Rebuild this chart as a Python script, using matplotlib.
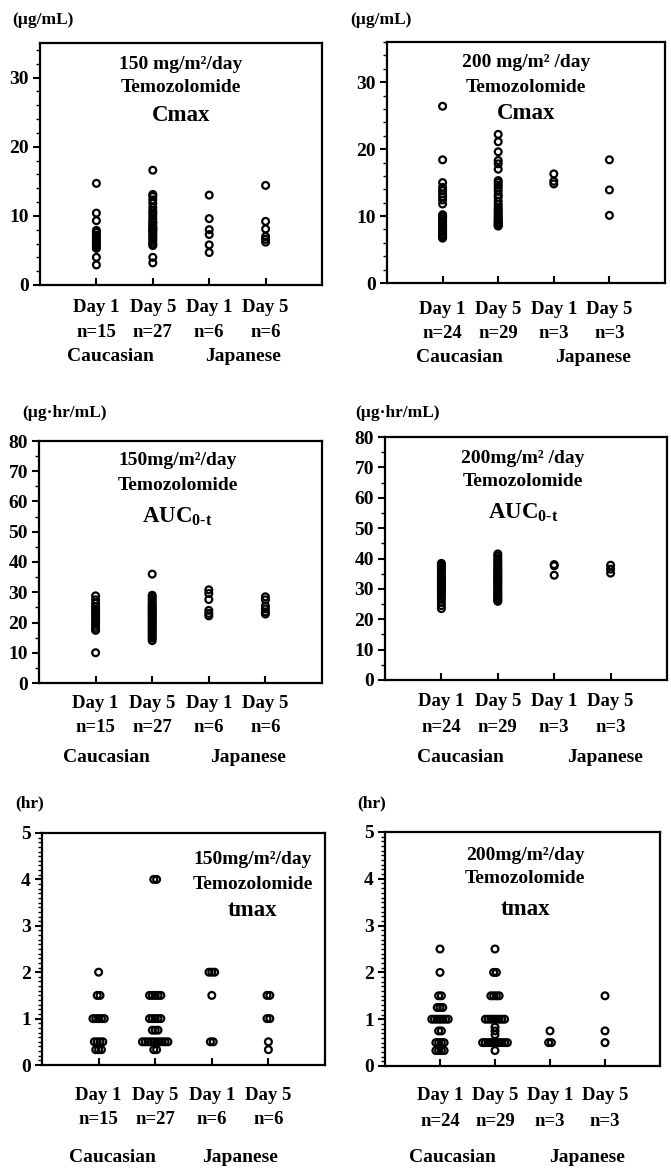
import numpy as np
import matplotlib.pyplot as plt
from matplotlib.ticker import MultipleLocator

plt.rcParams["font.family"] = ["Liberation Serif", "DejaVu Serif"]
plt.rcParams["font.weight"] = "bold"
plt.rcParams["mathtext.fontset"] = "custom"
plt.rcParams["mathtext.rm"] = "Liberation Serif:bold"

W, H = 671, 1168

day_labels = ["Day 1", "Day 5", "Day 1", "Day 5"]
race_labels = ["Caucasian", "Japanese"]
n150 = [15, 27, 6, 6]
n200 = [24, 29, 3, 3]

# Cmax (ug/mL)
cmax150_cau_d1 = [14.7, 10.4, 9.3, 7.9, 7.6, 7.2, 6.9, 6.6, 6.3, 6.0, 5.7, 5.5, 5.3, 4.0, 2.9]
cmax150_cau_d5 = [16.6, 13.1, 12.8, 12.3, 11.8, 11.2, 10.7, 10.4, 10.0, 9.6, 9.2, 9.0, 8.7, 8.4,
                  8.2, 8.0, 7.9, 7.6, 7.4, 7.1, 6.8, 6.5, 6.2, 5.9, 5.7, 4.0, 3.2]
cmax150_jpn_d1 = [13.0, 9.6, 8.0, 7.3, 5.8, 4.7]
cmax150_jpn_d5 = [14.4, 9.2, 8.1, 7.0, 6.6, 6.2]

cmax200_cau_d1 = [26.4, 18.4, 15.0, 14.3, 13.8, 13.3, 12.9, 12.4, 11.8, 10.2, 10.0, 9.9,
                  9.6, 9.3, 9.0, 8.7, 8.4, 8.1, 7.8, 7.6, 7.3, 7.1, 6.9, 6.7]
cmax200_cau_d5 = [22.2, 21.1, 19.6, 18.3, 17.8, 17.0, 15.3, 15.0, 14.6, 14.2, 13.7, 13.2,
                  12.8, 12.2, 11.7, 11.3, 11.0, 10.7, 10.4, 10.1, 9.8, 9.6, 9.4, 9.2, 9.0,
                  8.9, 8.7, 8.6, 8.5]
cmax200_jpn_d1 = [16.3, 15.2, 14.8]
cmax200_jpn_d5 = [18.4, 13.9, 10.1]

# AUC0-t (ug.hr/mL)
auc150_cau_d1 = [28.8, 27.5, 26.3, 25.2, 24.4, 23.6, 22.8, 22.0, 21.2, 20.4, 19.6, 18.8,
                 18.0, 17.4, 10.0]
auc150_cau_d5 = [36.0, 29.0, 28.3, 27.6, 26.9, 26.2, 25.5, 25.0, 24.5, 24.0, 23.5, 23.0,
                 22.5, 22.0, 21.4, 20.8, 20.2, 19.6, 19.0, 18.4, 17.8, 17.2, 16.6, 16.0,
                 15.4, 14.8, 14.0]
auc150_jpn_d1 = [30.8, 29.6, 27.6, 24.0, 23.0, 22.2]
auc150_jpn_d5 = [28.5, 27.5, 25.5, 24.5, 23.5, 22.8]

auc200_cau_d1 = [38.4, 38.0, 37.6, 37.2, 36.8, 36.3, 35.5, 34.5, 33.8, 33.2, 32.6, 32.0,
                 31.5, 31.0, 30.5, 30.0, 29.4, 28.8, 28.2, 27.5, 26.6, 25.5, 24.5, 23.5]
auc200_cau_d5 = [41.5, 40.8, 40.0, 39.3, 38.6, 38.0, 37.4, 36.8, 36.2, 35.7, 35.2, 34.7,
                 34.2, 33.7, 33.2, 32.7, 32.2, 31.7, 31.2, 30.6, 30.0, 29.4, 28.8, 28.3,
                 27.8, 27.3, 26.8, 26.3, 25.9]
auc200_jpn_d1 = [38.0, 37.6, 34.5]
auc200_jpn_d5 = [37.8, 36.5, 35.2]

# tmax (hr)
tmax150_cau_d1 = [2.0, 1.5, 1.5, 1.0, 1.0, 1.0, 1.0, 1.0, 0.5, 0.5, 0.5, 0.5, 0.33, 0.33, 0.33]
tmax150_cau_d5 = [4.0, 4.0, 1.5, 1.5, 1.5, 1.5, 1.5, 1.0, 1.0, 1.0, 1.0, 1.0, 0.75, 0.75,
                  0.75, 0.5, 0.5, 0.5, 0.5, 0.5, 0.5, 0.5, 0.5, 0.5, 0.5, 0.33, 0.33]
tmax150_jpn_d1 = [2.0, 2.0, 2.0, 1.5, 0.5, 0.5]
tmax150_jpn_d5 = [1.5, 1.5, 1.0, 1.0, 0.5, 0.33]

tmax200_cau_d1 = [2.5, 2.0, 1.5, 1.5, 1.25, 1.25, 1.25, 1.0, 1.0, 1.0, 1.0, 1.0, 1.0, 1.0,
                  0.75, 0.75, 0.5, 0.5, 0.5, 0.5, 0.33, 0.33, 0.33, 0.33]
tmax200_cau_d5 = [2.5, 2.0, 2.0, 1.5, 1.5, 1.5, 1.5, 1.0, 1.0, 1.0, 1.0, 1.0, 1.0, 1.0, 1.0,
                  0.83, 0.75, 0.67, 0.5, 0.5, 0.5, 0.5, 0.5, 0.5, 0.5, 0.5, 0.5, 0.5, 0.33]
tmax200_jpn_d1 = [0.75, 0.5, 0.5]
tmax200_jpn_d5 = [1.5, 0.75, 0.5]


def dodge(vals, step):
    vals = np.asarray(vals, float)
    off = np.zeros_like(vals)
    for v in np.unique(vals):
        idx = np.where(vals == v)[0]
        off[idx] = (np.arange(len(idx)) - (len(idx) - 1) / 2) * step
    return off


def panel(fig, box, groups, ymax, major, minor, unit, unit_xy, titles, title_x, title_y,
          nlist, offs, race_x, step=0.0):
    x0, y0, x1, y1 = box
    ax = fig.add_axes([x0 / W, 1 - y1 / H, (x1 - x0) / W, (y1 - y0) / H])
    for i, g in enumerate(groups):
        xs = i + 1 + dodge(g, step)
        ax.scatter(xs, g, s=24, facecolors="none", edgecolors="black", linewidths=1.6,
                   zorder=3, clip_on=False)
    ax.set_xlim(0, 5)
    ax.set_ylim(0, ymax)
    ax.yaxis.set_major_locator(MultipleLocator(major))
    ax.yaxis.set_minor_locator(MultipleLocator(minor))
    ax.set_xticks([1, 2, 3, 4], labels=[])
    ax.tick_params(axis="x", direction="in", length=5, width=1.5)
    ax.tick_params(axis="y", which="major", direction="out", length=5, width=1.5,
                   labelsize=14, pad=3)
    ax.tick_params(axis="y", which="minor", direction="out", length=3, width=1.0)
    for lab in ax.get_yticklabels():
        lab.set_fontweight("bold")
    for sp in ax.spines.values():
        sp.set_linewidth(1.6)

    fig.text(unit_xy[0] / W, 1 - unit_xy[1] / H, unit, fontsize=12.5, fontweight="bold",
             ha="left", va="center")

    sizes = [14, 14, 16.5]
    for t, ty, fs in zip(titles, title_y, sizes):
        ax.text(title_x, ty, t, transform=ax.transAxes, ha="center", va="center",
                fontsize=fs, fontweight="bold")

    for i, (d, n) in enumerate(zip(day_labels, nlist)):
        ax.annotate(d, xy=(i + 1, 0), xycoords=("data", "axes fraction"),
                    xytext=(0, -offs[0] * 0.72), textcoords="offset points",
                    ha="center", va="center", fontsize=13.5, fontweight="bold")
        ax.annotate(f"n={n}", xy=(i + 1, 0), xycoords=("data", "axes fraction"),
                    xytext=(0, -offs[1] * 0.72), textcoords="offset points",
                    ha="center", va="center", fontsize=13.5, fontweight="bold")
    for r, rx in zip(race_labels, race_x):
        ax.annotate(r, xy=(rx, 0), xycoords=("data", "axes fraction"),
                    xytext=(0, -offs[2] * 0.72), textcoords="offset points",
                    ha="center", va="center", fontsize=14, fontweight="bold")
    return ax


fig = plt.figure(figsize=(W / 100, H / 100), dpi=100)

panel(fig, (40, 43, 322, 285),
      [cmax150_cau_d1, cmax150_cau_d5, cmax150_jpn_d1, cmax150_jpn_d5],
      35, 10, 2, "(\u00b5g/mL)", (12, 20),
      ["150 mg/m\u00b2/day", "Temozolomide", "Cmax"], 0.5, [0.91, 0.815, 0.70],
      n150, (23, 48, 72), (1.25, 3.6))

panel(fig, (387, 42, 665, 283),
      [cmax200_cau_d1, cmax200_cau_d5, cmax200_jpn_d1, cmax200_jpn_d5],
      36, 10, 2, "(\u00b5g/mL)", (350, 20),
      ["200 mg/m\u00b2 /day", "Temozolomide", "Cmax"], 0.5, [0.915, 0.812, 0.705],
      n200, (27, 50, 75), (1.3, 3.7))

panel(fig, (39, 441, 322, 683),
      [auc150_cau_d1, auc150_cau_d5, auc150_jpn_d1, auc150_jpn_d5],
      80, 10, 5, "(\u00b5g\u00b7hr/mL)", (22, 413),
      ["150mg/m\u00b2/day", "Temozolomide", r"AUC$_{\text{0-t}}$"], 0.49, [0.92, 0.818, 0.686],
      n150, (20, 45, 74), (1.2, 3.7))

panel(fig, (385, 437, 667, 680),
      [auc200_cau_d1, auc200_cau_d5, auc200_jpn_d1, auc200_jpn_d5],
      80, 10, 5, "(\u00b5g\u00b7hr/mL)", (355, 413),
      ["200mg/m\u00b2 /day", "Temozolomide", r"AUC$_{\text{0-t}}$"], 0.49, [0.913, 0.815, 0.69],
      n200, (22, 48, 77), (1.33, 3.9))

panel(fig, (42, 833, 325, 1065),
      [tmax150_cau_d1, tmax150_cau_d5, tmax150_jpn_d1, tmax150_jpn_d5],
      5, 1, 0.1, "(hr)", (15, 803),
      ["150mg/m\u00b2/day", "Temozolomide", "tmax"], 0.745, [0.884, 0.776, 0.668],
      n150, (30, 55, 92), (1.25, 3.5), step=0.05)

panel(fig, (385, 832, 660, 1066),
      [tmax200_cau_d1, tmax200_cau_d5, tmax200_jpn_d1, tmax200_jpn_d5],
      5, 1, 0.1, "(hr)", (357, 803),
      ["200mg/m\u00b2/day", "Temozolomide", "tmax"], 0.51, [0.90, 0.80, 0.67],
      n200, (29, 56, 91), (1.22, 3.67), step=0.05)

fig.savefig("out.png", dpi=100)
